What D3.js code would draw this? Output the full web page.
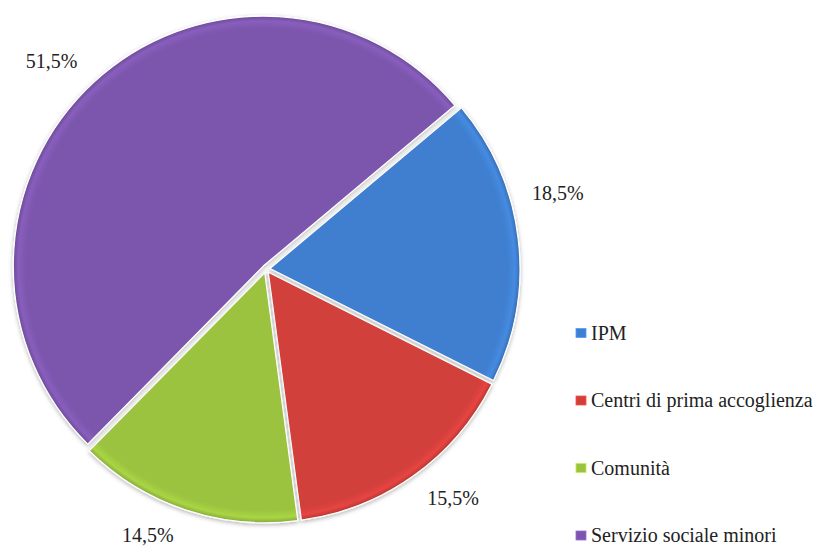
<!DOCTYPE html>
<html>
<head>
<meta charset="utf-8">
<script src="https://cdn.jsdelivr.net/npm/d3@7/dist/d3.min.js"></script>
<style>
  html, body { margin: 0; padding: 0; background: #fff; }
  svg { display: block; }
</style>
</head>
<body>
<svg id="chart" width="823" height="547"></svg>
<script>
// Chart data
const categories = ["IPM", "Centri di prima accoglienza", "Comunità", "Servizio sociale minori"];
const shares = [18.5, 15.5, 14.5, 51.5];
const labels = ["18,5%", "15,5%", "14,5%", "51,5%"];
const colors = ["#3f7fcf", "#d23f3b", "#9bc33f", "#7c56ad"];

// Layout
const W = 823, H = 547;
const cx = 266, cy = 269, R = 250;
const explode = 4;
const startDeg = 50;
const labelRadius = 300;
const FONT = "'Liberation Serif', 'Times New Roman', 'DejaVu Serif', serif";
// small per-label nudges (px) applied after placing at labelRadius
const labelNudge = [[-6, -41], [13, -15], [-23, -18], [-11, 12]];

const svg = d3.select("#chart");
const defs = svg.append("defs");

// soft shadow under slices
const sh = defs.append("filter").attr("id", "shadow")
  .attr("x", "-10%").attr("y", "-10%").attr("width", "120%").attr("height", "120%");
sh.append("feDropShadow").attr("dx", 0).attr("dy", 1.5).attr("stdDeviation", 2)
  .attr("flood-color", "#000").attr("flood-opacity", 0.3);

// bevel-like gradient per slice: faint lighter rim, darker outer edge
colors.forEach((c, i) => {
  const g = defs.append("radialGradient").attr("id", "grad" + i)
    .attr("gradientUnits", "userSpaceOnUse")
    .attr("cx", 0).attr("cy", 0).attr("r", R);
  const base = d3.color(c);
  g.append("stop").attr("offset", "0%").attr("stop-color", base.formatHex());
  g.append("stop").attr("offset", "95%").attr("stop-color", base.formatHex());
  g.append("stop").attr("offset", "98%").attr("stop-color", base.brighter(0.25).formatHex());
  g.append("stop").attr("offset", "100%").attr("stop-color", base.darker(0.4).formatHex());
});

const pie = d3.pie().sort(null).value(d => d)
  .startAngle(startDeg * Math.PI / 180)
  .endAngle(startDeg * Math.PI / 180 + 2 * Math.PI);
const arcs = pie(shares);

const arc = d3.arc().innerRadius(0).outerRadius(R);

const g = svg.append("g").attr("transform", `translate(${cx},${cy})`);

g.selectAll("path.slice")
  .data(arcs)
  .join("path")
  .attr("class", "slice")
  .attr("transform", d => {
    const a = (d.startAngle + d.endAngle) / 2;
    return `translate(${explode * Math.sin(a)},${-explode * Math.cos(a)})`;
  })
  .attr("d", arc)
  .attr("fill", (d, i) => `url(#grad${i})`)
  .attr("stroke", "#ffffff")
  .attr("stroke-width", 1.2)
  .attr("stroke-linejoin", "round")
  .attr("filter", "url(#shadow)");

// percentage labels
g.selectAll("text.pct")
  .data(arcs)
  .join("text")
  .attr("class", "pct")
  .attr("x", (d, i) => labelRadius * Math.sin((d.startAngle + d.endAngle) / 2) + labelNudge[i][0])
  .attr("y", (d, i) => -labelRadius * Math.cos((d.startAngle + d.endAngle) / 2) + labelNudge[i][1])
  .attr("text-anchor", "middle")
  .attr("dominant-baseline", "central")
  .attr("font-family", FONT)
  .attr("font-size", 20)
  .attr("fill", "#222")
  .text((d, i) => labels[i]);

// legend
const legend = svg.append("g").attr("transform", "translate(576,333)");
const rowStep = 67.5;
const items = legend.selectAll("g.item")
  .data(categories)
  .join("g")
  .attr("class", "item")
  .attr("transform", (d, i) => `translate(0,${i * rowStep})`);

items.append("rect")
  .attr("x", 0).attr("y", -4.5)
  .attr("width", 10).attr("height", 9)
  .attr("fill", (d, i) => colors[i])
  .attr("stroke", (d, i) => d3.color(colors[i]).brighter(0.6))
  .attr("stroke-width", 0.8);

items.append("text")
  .attr("x", 15).attr("y", 6.5)
  .attr("font-family", FONT)
  .attr("font-size", 20)
  .attr("fill", "#222")
  .text(d => d);
</script>
</body>
</html>
